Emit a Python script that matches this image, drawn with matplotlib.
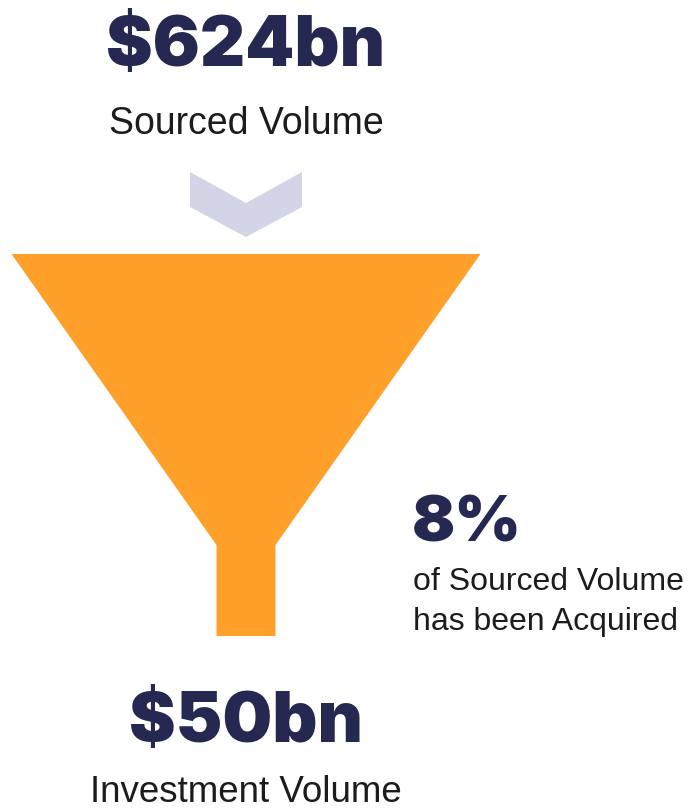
import matplotlib.pyplot as plt
from matplotlib.patches import Polygon

# figures shown in the funnel graphic
sourced_value = "$624bn"
sourced_label = "Sourced Volume"
invested_value = "$50bn"
invested_label = "Investment Volume"
share_value = "8%"
share_lines = ["of Sourced Volume", "has been Acquired"]

navy = "#252850"
orange = "#FFA02A"
chevron_col = "#D1D5E6"
text_col = "#1c1c1c"

W, H = 693, 811
fig = plt.figure(figsize=(W / 100, H / 100), dpi=100)
ax = fig.add_axes([0, 0, 1, 1])
ax.set_xlim(0, W)
ax.set_ylim(H, 0)
ax.axis("off")

cx = 246
# funnel shape (pixel layout)
top_y, neck_y, bottom_y = 254, 545, 636
half_top, half_neck = 234.5, 29.5
funnel = [(cx - half_top, top_y), (cx + half_top, top_y),
          (cx + half_neck, neck_y), (cx + half_neck, bottom_y),
          (cx - half_neck, bottom_y), (cx - half_neck, neck_y)]
ax.add_patch(Polygon(funnel, closed=True, fc=orange, ec="none"))

# chevron
chev = [(cx - 56, 172), (cx, 203), (cx + 56, 172),
        (cx + 56, 207), (cx, 237), (cx - 56, 207)]
ax.add_patch(Polygon(chev, closed=True, fc=chevron_col, ec="none"))

big = dict(family="Inter", fontweight=900, color=navy)
small = dict(family="Liberation Sans", color=text_col)

ax.text(cx, 66, sourced_value, ha="center", va="baseline", fontsize=50.5, **big)
ax.text(cx, 134.5, sourced_label, ha="center", va="baseline", fontsize=27, **small)

ax.text(cx, 742, invested_value, ha="center", va="baseline", fontsize=50.5, **big)
ax.text(cx, 802, invested_label, ha="center", va="baseline", fontsize=26.5, **small)

ax.text(412, 542, share_value, ha="left", va="baseline", fontsize=46, **big)
for i, line in enumerate(share_lines):
    ax.text(413, 590 + i * 40, line, ha="left", va="baseline", fontsize=23, **small)

fig.savefig("out.png", dpi=100)
